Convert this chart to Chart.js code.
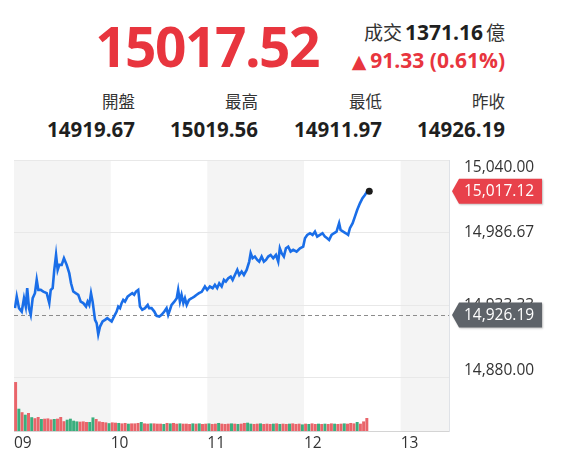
<!DOCTYPE html>
<html>
<head>
<meta charset="utf-8">
<script src="https://cdn.jsdelivr.net/npm/chart.js@4.4.0/dist/chart.umd.min.js"></script>
<style>
  body { margin: 0; background: #fff; font-family: "Open Sans", "Noto Sans CJK TC", sans-serif; color: #1f1f1f; }
  #wrap { position: relative; width: 564px; height: 464px; overflow: hidden; }
  .t { position: absolute; white-space: nowrap; text-align: right; }
  .big { font-size: 55px; line-height: 55px; font-weight: 700; color: #e8353e; letter-spacing: -1.5px; }
  .cj { font-family: "Noto Sans CJK TC", sans-serif; }
  .vol { font-size: 19px; line-height: 24px; color: #333; }
  .vol b { font-family: "Open Sans"; font-size: 21px; color: #1f1f1f; margin: 0 3px; }
  .chg { font-size: 21px; line-height: 24px; font-weight: 700; color: #e8353e; }
  .chg .tri { font-family: "DejaVu Sans"; font-size: 19px; margin-right: 4px; }
  .lbl { font-family: "Noto Sans CJK TC", sans-serif; font-size: 16.5px; line-height: 22px; color: #333; }
  .val { font-size: 20.5px; line-height: 24px; font-weight: 700; color: #1f1f1f; }
  #chart { position: absolute; left: 0; top: 150px; }
</style>
</head>
<body>
<div id="wrap">
  <div class="t big" style="right:245px; top:18px;">15017.52</div>
  <div class="t vol" style="right:59px; top:20px;"><span class="cj">成交</span><b>1371.16</b><span class="cj">億</span></div>
  <div class="t chg" style="right:59px; top:48px;"><span class="tri">▲</span>91.33 (0.61%)</div>

  <div class="t lbl" style="right:429px; top:90px;">開盤</div>
  <div class="t lbl" style="right:306px; top:90px;">最高</div>
  <div class="t lbl" style="right:182px; top:90px;">最低</div>
  <div class="t lbl" style="right:59px; top:90px;">昨收</div>
  <div class="t val" style="right:429px; top:117px;">14919.67</div>
  <div class="t val" style="right:306px; top:117px;">15019.56</div>
  <div class="t val" style="right:182px; top:117px;">14911.97</div>
  <div class="t val" style="right:59px; top:117px;">14926.19</div>

  <canvas id="chart" width="564" height="314"></canvas>
</div>
<script>
// ---------------------------------------------------------------
// 分時走勢 (minutes after 09:00)
const priceMinutes = [
  0.6, 1.7, 3.1, 4.8, 6.2, 7.3, 8.2, 9.3, 10.4, 11.6, 13.0, 14.1, 15.1, 16.6, 18.2, 20.3,
  21.9, 22.8, 24.0, 25.0, 26.1, 27.1, 28.1, 29.6, 31.0, 32.7, 34.3, 35.4, 36.8, 38.3, 39.9,
  41.4, 43.0, 44.7, 45.7, 46.7, 47.8, 48.8, 50.3, 51.3, 52.3, 53.4, 55.0, 56.5, 57.9,
  60.6, 61.6, 63.7, 64.7, 65.8, 66.8, 67.8, 68.9, 70.5, 72.0, 73.4, 74.6, 75.7, 77.1,
  78.2, 79.6, 81.3, 83.0, 83.9, 85.4, 87.1, 88.5, 90.2, 91.6, 93.3, 94.7, 95.7, 96.8,
  97.8, 99.5, 101.0, 101.9, 103.0, 104.0, 105.1, 106.1, 107.2, 108.6, 110.3, 111.9,
  113.4, 114.8, 116.5, 118.5, 119.9, 121.6, 123.3, 124.7, 126.1, 127.4, 128.9, 130.3,
  131.5, 133.0, 134.5, 135.7, 137.1, 138.6, 139.8, 141.3, 142.7, 144.4, 146.0, 146.9,
  148.1, 149.5, 151.0, 152.2, 153.7, 155.1, 156.4, 157.8, 159.3, 160.9, 162.6, 164.0,
  165.0, 166.1, 167.5, 168.8, 170.2, 171.7, 173.3, 175.4, 177.5, 179.5, 180.6, 182.0,
  183.7, 185.3, 186.8, 188.2, 189.9, 191.5, 193.0, 194.4, 195.6, 197.1, 198.5, 200.2,
  201.8, 202.7, 204.3, 206.0, 207.4, 208.5, 210.2, 211.6, 213.0, 214.7, 216.3, 217.8,
  219.2, 220.5
];
const priceValues = [
  14931.2, 14939.7, 14931.2, 14928.7, 14938.5, 14932.4, 14945.9, 14931.2, 14926.3, 14938.5,
  14942.2, 14952.0, 14944.6, 14944.6, 14943.4, 14942.2, 14934.9, 14944.6, 14945.9, 14959.3,
  14970.3, 14959.3, 14963.0, 14963.0, 14967.9, 14963.0, 14956.9, 14949.5, 14943.4, 14942.2,
  14941.0, 14936.0, 14934.9, 14932.4, 14936.0, 14933.6, 14942.2, 14936.0, 14922.6, 14920.2,
  14912.0, 14917.7, 14921.4, 14922.6, 14923.9,
  14921.4, 14923.9, 14928.7, 14932.4, 14931.2, 14934.9, 14937.3, 14936.0, 14939.7, 14941.0,
  14942.2, 14941.0, 14943.4, 14944.6, 14932.4, 14930.0, 14931.2, 14933.6, 14931.2, 14931.2,
  14928.7, 14925.6, 14925.0, 14926.3, 14928.7, 14931.2, 14926.3, 14930.0, 14933.6, 14936.0,
  14938.5, 14944.6, 14936.0, 14941.0, 14934.9, 14938.5, 14933.6, 14937.3, 14938.5, 14939.7,
  14941.0, 14942.2, 14943.2, 14947.1, 14944.6, 14947.1, 14945.9, 14948.3, 14945.9, 14949.5,
  14947.1, 14952.0, 14950.7, 14953.2, 14954.4, 14952.0, 14955.6, 14959.3, 14955.6, 14958.1,
  14955.6, 14959.3, 14965.4, 14971.6, 14967.9, 14969.1, 14966.6, 14965.4, 14969.1, 14965.4,
  14966.6, 14969.1, 14970.3, 14967.9, 14970.3, 14965.4, 14975.2, 14971.6, 14969.1, 14975.2,
  14976.4, 14972.7, 14974.0, 14972.7, 14975.2, 14976.4, 14982.6, 14985.0, 14986.2, 14985.0,
  14987.4, 14983.7, 14985.0, 14986.2, 14983.7, 14982.6, 14981.3, 14985.0, 14986.2, 14987.4,
  14993.6, 14988.7, 14987.4, 14986.2, 14985.0, 14989.9, 14993.6, 14998.4, 15003.3, 15008.2,
  15011.9, 15014.3, 15016.8, 15017.12
];

// 成交量 (億, 2-minute buckets)
const volMinutes = [
  1, 3, 5, 7, 9, 11, 13, 15, 17, 19, 21, 23, 25, 27, 29, 31, 33, 35, 37, 39,
  41, 43, 45, 47, 49, 51, 53, 55, 57, 59, 61, 63, 65, 67, 69, 71, 73, 75, 77, 79,
  81, 83, 85, 87, 89, 91, 93, 95, 97, 99, 101, 103, 105, 107, 109, 111, 113, 115, 117, 119,
  121, 123, 125, 127, 129, 131, 133, 135, 137, 139, 141, 143, 145, 147, 149, 151, 153, 155, 157, 159,
  161, 163, 165, 167, 169, 171, 173, 175, 177, 179, 181, 183, 185, 187, 189, 191, 193, 195, 197, 199,
  201, 203, 205, 207, 209, 211, 213, 215, 217, 219
];
const volValues = [
  68.2, 30.8, 25.9, 22.4, 24.8, 18.9, 17.5, 19.2, 16.4, 16.8,
  17.2, 15.8, 16.4, 16.8, 19.2, 13.3, 15.4, 16.8, 14.0, 13.0,
  12.6, 13.0, 12.2, 12.2, 18.6, 16.4, 13.0, 12.2, 11.6, 10.5,
  11.6, 11.2, 10.8, 10.2, 10.8, 9.8, 10.2, 10.2, 10.8, 12.2,
  10.2, 9.8, 10.2, 10.2, 9.8, 9.8, 9.4, 10.8, 10.2, 10.8,
  9.8, 10.2, 9.8, 9.8, 9.4, 10.2, 9.8, 10.2, 9.4, 9.8,
  10.2, 9.4, 9.8, 10.8, 9.8, 9.4, 9.8, 10.2, 9.8, 9.4,
  9.8, 10.8, 11.2, 9.8, 9.4, 9.8, 10.2, 9.4, 9.8, 9.4,
  9.8, 10.2, 9.4, 9.8, 9.4, 9.8, 10.2, 9.4, 9.8, 8.8,
  9.8, 9.4, 10.2, 9.4, 9.8, 9.4, 9.8, 9.4, 10.2, 9.8,
  9.4, 9.8, 10.2, 9.8, 10.8, 10.2, 12.2, 9.8, 13.0, 17.8
];
// 1 = 上漲(紅), 0 = 下跌(綠)
const volUp = [
  1, 0, 1, 0, 1, 0, 1, 1, 0, 1,
  1, 1, 0, 1, 1, 1, 0, 0, 0, 0,
  1, 1, 1, 0, 0, 1, 1, 1, 1, 0,
  1, 1, 0, 1, 1, 0, 1, 1, 1, 0,
  1, 1, 0, 1, 1, 1, 0, 1, 0, 1,
  1, 0, 1, 1, 1, 0, 1, 0, 1, 1,
  0, 1, 1, 0, 1, 1, 1, 0, 1, 0,
  1, 1, 0, 0, 1, 1, 0, 1, 1, 1,
  0, 1, 0, 1, 1, 0, 1, 1, 1, 0,
  1, 0, 1, 1, 0, 1, 0, 1, 1, 0,
  1, 1, 0, 1, 1, 1, 0, 1, 1, 1
];

const hourTicks = [0, 60, 120, 180, 240];
const hourLabels = ['09', '10', '11', '12', '13'];
const grayHours = [[0, 60], [120, 180], [240, 270]];
const priceTicks = [14880, 14933.33, 14986.67, 15040];
const prevClose = 14926.19;
const lastPrice = 15017.12;

const RED = '#e8414b';
const fmt = v => v.toLocaleString('en-US', { minimumFractionDigits: 2, maximumFractionDigits: 2 });
const tickFont = { family: 'Open Sans', size: 15.5 };

// ---------------------------------------------------------------
// plugins

const sessionBands = {
  id: 'sessionBands',
  beforeDraw(chart) {
    const { ctx, chartArea: a, scales: { x } } = chart;
    ctx.save();
    ctx.fillStyle = '#f4f4f4';
    grayHours.forEach(([s, e]) => {
      const x0 = x.getPixelForValue(s);
      const x1 = x.getPixelForValue(e);
      ctx.fillRect(x0, a.top, x1 - x0, a.bottom - a.top);
    });
    ctx.restore();
  }
};

const prevCloseLine = {
  id: 'prevCloseLine',
  beforeDatasetsDraw(chart) {
    const { ctx, chartArea: a, scales: { y } } = chart;
    const py = Math.round(y.getPixelForValue(prevClose)) + 0.5;
    ctx.save();
    ctx.strokeStyle = '#8c8c8c';
    ctx.lineWidth = 1;
    ctx.setLineDash([4, 3]);
    ctx.beginPath();
    ctx.moveTo(a.left, py);
    ctx.lineTo(a.right, py);
    ctx.stroke();
    ctx.restore();
  }
};

function drawBadge(ctx, chart, value, color) {
  const a = chart.chartArea;
  const py = chart.scales.y.getPixelForValue(value);
  const tip = a.right + 3, body = a.right + 10, right = chart.width - 22, h = 25;
  ctx.save();
  ctx.shadowColor = 'rgba(0,0,0,0.25)';
  ctx.shadowBlur = 2;
  ctx.shadowOffsetX = 1;
  ctx.shadowOffsetY = 1;
  ctx.fillStyle = color;
  ctx.beginPath();
  ctx.moveTo(tip, py);
  ctx.lineTo(body, py - h / 2);
  ctx.lineTo(right, py - h / 2);
  ctx.lineTo(right, py + h / 2);
  ctx.lineTo(body, py + h / 2);
  ctx.closePath();
  ctx.fill();
  ctx.restore();
  ctx.save();
  ctx.fillStyle = '#fff';
  ctx.font = '15.5px "Open Sans"';
  ctx.textAlign = 'left';
  ctx.textBaseline = 'middle';
  ctx.fillText(fmt(value), a.right + 15, py + 0.5);
  ctx.restore();
}

const priceBadges = {
  id: 'priceBadges',
  afterDraw(chart) {
    drawBadge(chart.ctx, chart, lastPrice, RED);
    drawBadge(chart.ctx, chart, prevClose, '#5e6369');
  }
};

// ---------------------------------------------------------------
// chart

new Chart(document.getElementById('chart'), {
  type: 'bar',
  data: {
    datasets: [
      {
        type: 'line',
        data: priceMinutes.map((m, i) => ({ x: m, y: priceValues[i] })),
        yAxisID: 'y',
        borderColor: '#1a6ee8',
        borderWidth: 2.6,
        tension: 0,
        pointRadius: c => (c.dataIndex === priceValues.length - 1 ? 3.5 : 0),
        pointBackgroundColor: '#1c1c1c',
        pointBorderWidth: 0,
        order: 0
      },
      {
        type: 'bar',
        data: volMinutes.map((m, i) => ({ x: m, y: volValues[i] })),
        yAxisID: 'yv',
        backgroundColor: volUp.map(u => (u ? '#e9646a' : '#3aae7d')),
        barThickness: 2.3,
        order: 1
      }
    ]
  },
  options: {
    responsive: false,
    animation: false,
    devicePixelRatio: 1,
    layout: { padding: { left: 14, top: 10, right: 0, bottom: 0 } },
    plugins: { legend: { display: false }, tooltip: { enabled: false } },
    scales: {
      x: {
        type: 'linear',
        offset: false,
        min: 0,
        max: 270,
        afterBuildTicks: s => { s.ticks = hourTicks.map(v => ({ value: v })); },
        afterFit: s => { s.height = 33; s.paddingLeft = 0; s.paddingRight = 0; },
        grid: { display: false, drawTicks: false, offset: false },
        border: { color: '#d4d4d4' },
        ticks: {
          align: 'start',
          padding: 3,
          color: '#333',
          font: tickFont,
          autoSkip: false,
          maxRotation: 0,
          callback: v => hourLabels[hourTicks.indexOf(v)]
        }
      },
      y: {
        position: 'right',
        min: 14841,
        max: 15040,
        afterBuildTicks: s => { s.ticks = priceTicks.map(v => ({ value: v })); },
        afterFit: s => { s.width = 115; s.paddingTop = 0; s.paddingBottom = 0; },
        grid: { color: '#e8e8e8', drawTicks: false },
        border: { color: '#dfe2e7' },
        ticks: {
          padding: 15,
          color: '#333',
          font: { family: 'Open Sans', size: 15.5, lineHeight: 1 },
          autoSkip: false,
          callback: (v, i, ticks) => {
            const s = fmt(v);
            if (i === ticks.length - 1) return ['', s];
            if (i === 0) return [s, ''];
            return s;
          }
        }
      },
      yv: { display: false, min: 0, max: 380 }
    }
  },
  plugins: [sessionBands, prevCloseLine, priceBadges]
});
</script>
</body>
</html>
